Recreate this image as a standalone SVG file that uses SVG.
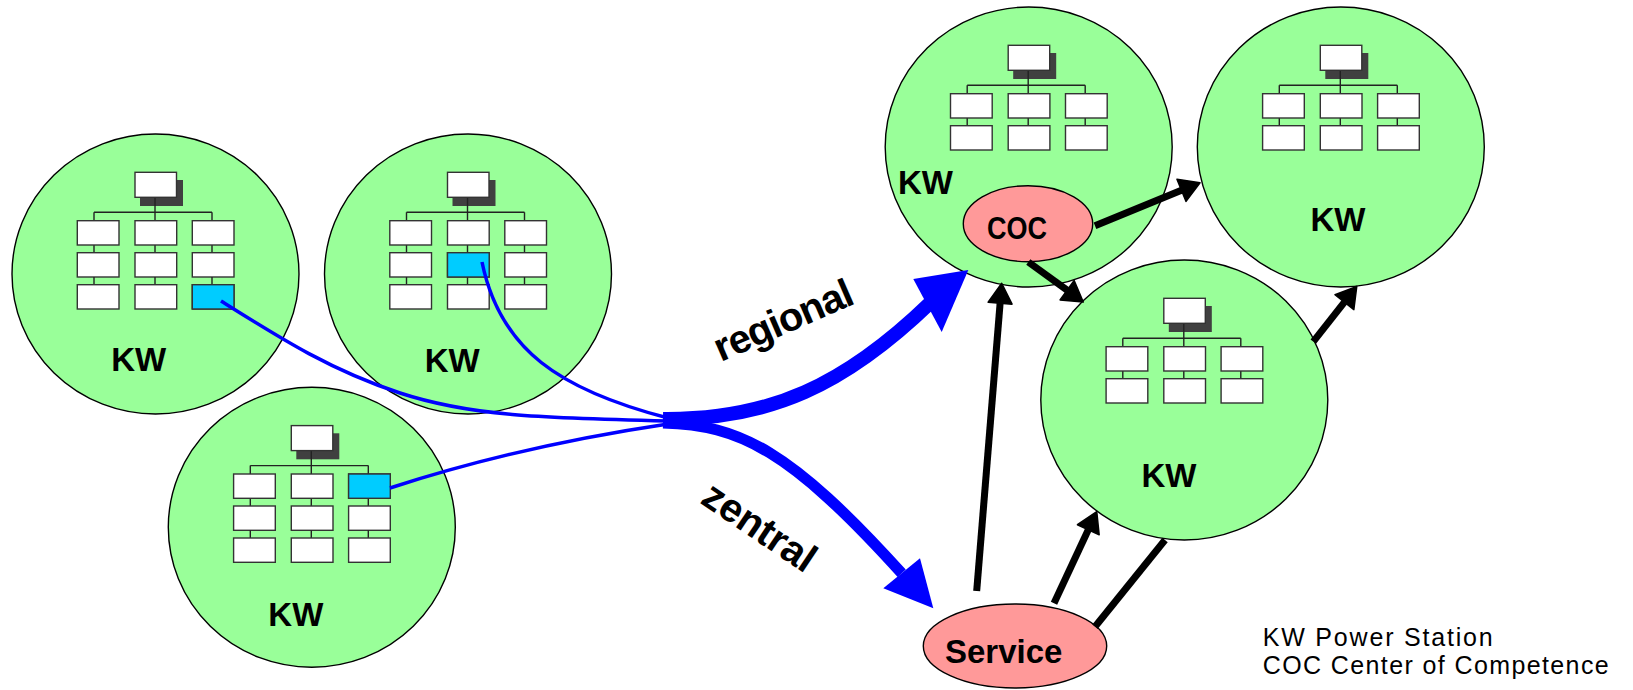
<svg xmlns="http://www.w3.org/2000/svg" xmlns:xlink="http://www.w3.org/1999/xlink" width="1633" height="690" viewBox="0 0 1633 690">
<style>
.kw{fill:#99FF99;stroke:#000;stroke-width:1.4}
.coc{fill:#FF9999;stroke:#000;stroke-width:1.4}
.box{fill:#fff;stroke:#333;stroke-width:1.4}
.hl{fill:#00CCFF;stroke:#333;stroke-width:1.4}
.shadow{fill:#404040}
.org{stroke:#222;stroke-width:1.4;fill:none}
.lbl{font-family:"Liberation Sans",Arial,sans-serif;font-weight:bold;font-size:33px;fill:#000}
.big{font-family:"Liberation Sans",Arial,sans-serif;font-weight:bold;font-size:40px;fill:#000}
.leg{font-family:"Liberation Sans",Arial,sans-serif;font-size:25px;fill:#000}
.thin{fill:none;stroke:#0000FF;stroke-width:3.5}
.thick{fill:none;stroke:#0000FF}
.bhead{fill:#0000FF}
.blk{fill:none;stroke:#000;stroke-width:7}
</style>
<defs>
<marker id="ah" markerUnits="userSpaceOnUse" markerWidth="22" markerHeight="26" viewBox="-1 -1 22 26" refX="0" refY="12" orient="auto" overflow="visible">
<path d="M0,0 L20,12 L0,24 z" fill="#000" stroke="#000" stroke-width="1.5" stroke-linejoin="round"/>
</marker>
<g id="orgtop">
<rect class="shadow" x="-15.5" y="-94" width="43" height="26"/>
<path class="org" d="M-0.5,-76.7 V-61.7 M-61.5,-61.7 H56.5 M-61.5,-61.7 V-53.3 M-0.5,-61.7 V-53.3 M56.5,-61.7 V-53.3 M-61.5,-29 V-21.3 M-0.5,-29 V-21.3 M56.5,-29 V-21.3"/>
<rect class="box" x="-20.5" y="-101.7" width="41.5" height="25"/>
<rect class="box" x="-78.2" y="-53.3" width="41.7" height="24.3"/>
<rect class="box" x="-20.5" y="-53.3" width="41.7" height="24.3"/>
<rect class="box" x="36.8" y="-53.3" width="41.7" height="24.3"/>
<rect class="box" x="-78.2" y="-21.3" width="41.7" height="24.3"/>
<rect class="box" x="-20.5" y="-21.3" width="41.7" height="24.3"/>
<rect class="box" x="36.8" y="-21.3" width="41.7" height="24.3"/>
</g>
<g id="org3">
<use xlink:href="#orgtop" href="#orgtop"/>
<path class="org" d="M-61.5,3 V10.7 M-0.5,3 V10.7 M56.5,3 V10.7"/>
<rect class="box" x="-78.2" y="10.7" width="41.7" height="24.3"/>
<rect class="box" x="-20.5" y="10.7" width="41.7" height="24.3"/>
<rect class="box" x="36.8" y="10.7" width="41.7" height="24.3"/>
</g>
</defs>
<rect width="1633" height="690" fill="#fff"/>

<g id="kw1">
<ellipse class="kw" cx="155.5" cy="274" rx="143.5" ry="140"/>
<use xlink:href="#org3" href="#org3" transform="translate(155.5,274)"/>
<rect class="hl" x="192.3" y="284.7" width="41.7" height="24.3"/>
<text class="lbl" x="138.7" y="370.7" text-anchor="middle">KW</text>
</g>
<g id="kw2">
<ellipse class="kw" cx="468" cy="274" rx="143.5" ry="140"/>
<use xlink:href="#org3" href="#org3" transform="translate(468,274)"/>
<rect class="hl" x="447.5" y="252.7" width="41.7" height="24.3"/>
<text class="lbl" x="452.2" y="371.7" text-anchor="middle">KW</text>
</g>
<g id="kw3">
<ellipse class="kw" cx="311.8" cy="527.3" rx="143.5" ry="140"/>
<use xlink:href="#org3" href="#org3" transform="translate(311.8,527.3)"/>
<rect class="hl" x="348.6" y="474" width="41.7" height="24.3"/>
<text class="lbl" x="295.8" y="626" text-anchor="middle">KW</text>
</g>
<g id="kw4">
<ellipse class="kw" cx="1028.7" cy="147" rx="143.5" ry="140"/>
<use xlink:href="#orgtop" href="#orgtop" transform="translate(1028.7,147)"/>
<text class="lbl" x="925.5" y="194.3" text-anchor="middle">KW</text>
</g>
<g id="coc">
<ellipse class="coc" cx="1028" cy="223.7" rx="64.7" ry="38"/>
<text class="lbl" x="1016.9" y="239" text-anchor="middle" style="font-size:31px" textLength="60" lengthAdjust="spacingAndGlyphs">COC</text>
</g>
<g id="kw5">
<ellipse class="kw" cx="1340.8" cy="147" rx="143.5" ry="140"/>
<use xlink:href="#orgtop" href="#orgtop" transform="translate(1340.8,147)"/>
<text class="lbl" x="1338" y="231" text-anchor="middle">KW</text>
</g>
<g id="kw6">
<ellipse class="kw" cx="1184.3" cy="400" rx="143.5" ry="140"/>
<use xlink:href="#orgtop" href="#orgtop" transform="translate(1184.3,400)"/>
<text class="lbl" x="1168.9" y="486.7" text-anchor="middle">KW</text>
</g>
<g id="service">
<ellipse class="coc" cx="1015" cy="646" rx="91.7" ry="42"/>
<text class="lbl" x="1003.7" y="663.3" text-anchor="middle">Service</text>
</g>

<g id="connectors">
<path class="thin" d="M221,301 C280,338 330,370 400,393 S540,418 668,421"/>
<path class="thin" d="M482,262 C500,350 560,390 668,418"/>
<path class="thin" d="M390,488 C470,462 560,440 668,424"/>
<path class="thick" stroke-width="14" d="M663,419 C770,420 845,385 930,303"/>
<polygon class="bhead" points="913.3,279 968.3,270 941.7,332"/>
<path class="thick" stroke-width="11" d="M663,423 C740,425 790,450 901.7,573.3"/>
<polygon class="bhead" points="883.3,588.3 920,558.3 933.3,608.3"/>
<line class="blk" x1="976.7" y1="591" x2="1000.1" y2="303.2" marker-end="url(#ah)"/>
<line class="blk" x1="1028.3" y1="262" x2="1067.1" y2="290.2" marker-end="url(#ah)"/>
<line class="blk" x1="1095" y1="225.7" x2="1181.5" y2="190.3" marker-end="url(#ah)"/>
<line class="blk" x1="1313.3" y1="341.7" x2="1344.4" y2="302.2" marker-end="url(#ah)"/>
<line class="blk" x1="1054" y1="603.3" x2="1088.3" y2="529.8" marker-end="url(#ah)"/>
<line class="blk" x1="1095" y1="626.7" x2="1165" y2="540"/>
</g>

<text class="big" transform="translate(788.7,332.5) rotate(-23.5)" text-anchor="middle" textLength="148">regional</text>
<text class="big" transform="translate(752,538) rotate(34)" text-anchor="middle" textLength="128">zentral</text>

<g id="legend">
<text class="leg" x="1262.7" y="645.5" textLength="230">KW Power Station</text>
<text class="leg" x="1262.7" y="674" textLength="346">COC Center of Competence</text>
</g>
</svg>
